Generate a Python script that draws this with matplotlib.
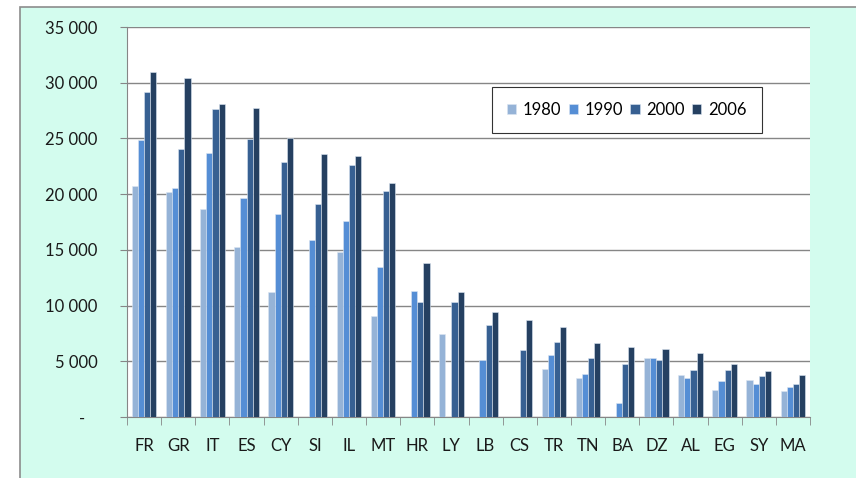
import numpy as np
import matplotlib
matplotlib.use("Agg")
import matplotlib.pyplot as plt
import matplotlib.ticker as mtick
from matplotlib.patches import Rectangle

plt.rcParams['font.family'] = ['Lato', 'DejaVu Sans']

countries = ['FR', 'GR', 'IT', 'ES', 'CY', 'SI', 'IL', 'MT', 'HR', 'LY',
             'LB', 'CS', 'TR', 'TN', 'BA', 'DZ', 'AL', 'EG', 'SY', 'MA']
years = ['1980', '1990', '2000', '2006']

nan = np.nan
v1980 = [20700, 20150, 18700, 15250, 11200, nan, 14800, 9100, nan, 7450,
         nan, nan, 4300, 3500, nan, 5330, 3800, 2430, 3350, 2370]
v1990 = [24900, 20550, 23650, 19650, 18200, 15900, 17550, 13500, 11350, nan,
         5150, nan, 5570, 3900, 1300, 5270, 3500, 3260, 2960, 2720]
v2000 = [29200, 24050, 27600, 24950, 22850, 19100, 22600, 20300, 10300, 10300,
         8280, 5980, 6700, 5280, 4800, 5120, 4250, 4190, 3710, 2960]
v2006 = [31000, 30400, 28100, 27750, 25050, 23600, 23380, 21000, 13800, 11180,
         9430, 8750, 8120, 6600, 6260, 6110, 5720, 4790, 4100, 3800]

series = [v1980, v1990, v2000, v2006]
colors = ['#95B3D7', '#558ED5', '#376092', '#254061']

fig = plt.figure(figsize=(8.56, 4.78), dpi=100, facecolor='white')
# fond vert menthe avec bordure grise
fig.patches.append(Rectangle((20 / 856, -0.1), 1.2, 1 - 7 / 478 + 0.1,
                             transform=fig.transFigure, facecolor='#D3FCEE',
                             edgecolor='#8C8C8C', linewidth=1.2, zorder=-10))

ax = fig.add_axes([127 / 856, 1 - 417 / 478, (810 - 127) / 856, (417 - 27) / 478])
ax.set_zorder(1)
ax.set_facecolor('white')

x = np.arange(len(countries))
w = 0.18
for i, (vals, col, yr) in enumerate(zip(series, colors, years)):
    ax.bar(x + (i - 1.5) * w, np.array(vals, dtype=float), width=w, color=col,
           edgecolor='#DCE6F2', linewidth=0.4, label=yr, zorder=3)

ax.set_xlim(-0.5, len(countries) - 0.5)
ax.set_ylim(0, 35000)
ax.yaxis.set_major_locator(mtick.MultipleLocator(5000))
ax.yaxis.set_major_formatter(mtick.FuncFormatter(
    lambda v, _: '-   ' if v == 0 else f"{v:,.0f}".replace(',', ' ')))
ax.grid(axis='y', color='#868686', linewidth=1, zorder=0)

ax.set_xticks(x)
ax.set_xticklabels(countries)
ax.set_xticks(np.arange(-0.5, len(countries)), minor=True)
ax.tick_params(axis='x', which='major', length=0, pad=15, labelsize=12, colors='#1a1a1a')
ax.tick_params(axis='x', which='minor', length=6, color='#868686')
ax.tick_params(axis='y', length=5, color='#868686', pad=16, labelsize=12, labelcolor='#1a1a1a')

for s in ['top', 'right']:
    ax.spines[s].set_visible(False)
for s in ['left', 'bottom']:
    ax.spines[s].set_color('#868686')

leg = ax.legend(ncol=4, loc='upper left', bbox_to_anchor=(0.534, 0.846),
                borderaxespad=0, fontsize=12, frameon=True, fancybox=False,
                handlelength=0.55, handleheight=0.55, handletextpad=0.4,
                columnspacing=0.45, borderpad=0.9)
leg.get_frame().set_edgecolor('black')
leg.get_frame().set_linewidth(0.8)

plt.savefig('out.png', dpi=100, facecolor=fig.get_facecolor())
